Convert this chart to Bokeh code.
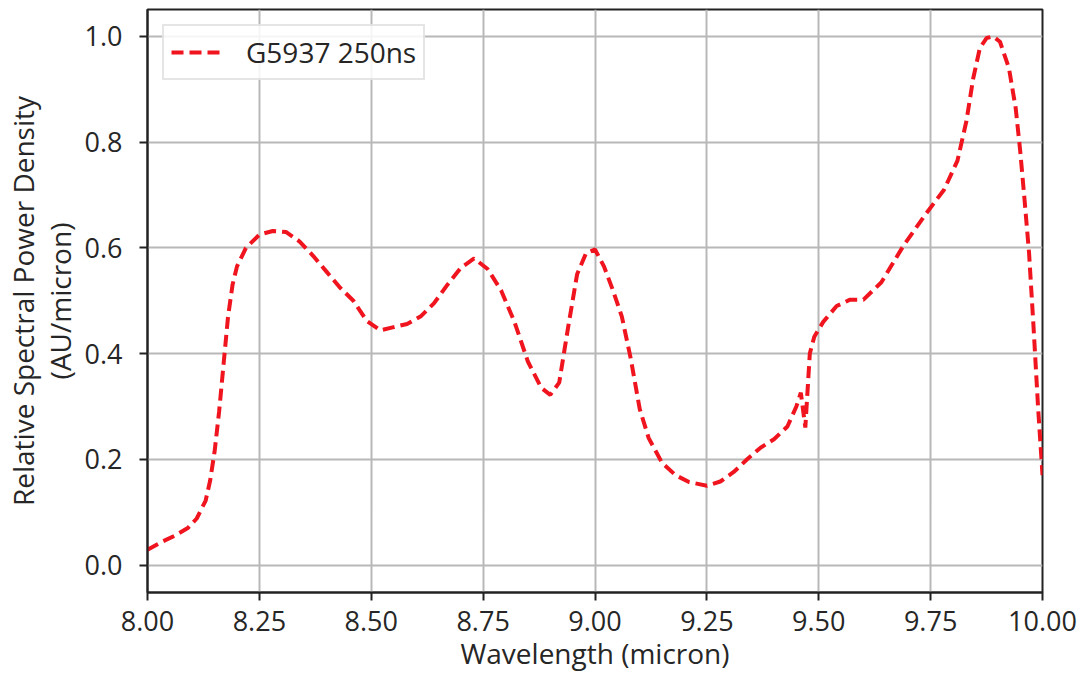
from bokeh.plotting import figure
from bokeh.models import Range1d, FixedTicker, Legend, LegendItem
from bokeh.embed import file_html
from bokeh.resources import INLINE

# ---- data ----
wavelength = [8.00, 8.03, 8.06, 8.09, 8.11, 8.13, 8.14, 8.15, 8.16, 8.17, 8.18, 8.19,
              8.20, 8.22, 8.25, 8.28, 8.31, 8.34, 8.37, 8.40, 8.43, 8.46, 8.49, 8.52,
              8.55, 8.58, 8.61, 8.64, 8.67, 8.70, 8.73, 8.76, 8.79, 8.82, 8.85, 8.88,
              8.90, 8.92, 8.94, 8.96, 8.98, 9.00, 9.02, 9.04, 9.06, 9.08, 9.10, 9.12,
              9.15, 9.18, 9.21, 9.25, 9.28, 9.31, 9.34, 9.37, 9.40, 9.43, 9.45, 9.46,
              9.47, 9.475, 9.48, 9.49, 9.51, 9.54, 9.57, 9.60, 9.64, 9.69, 9.74, 9.78,
              9.81, 9.83, 9.845, 9.86, 9.875, 9.89, 9.905, 9.925, 9.94, 9.95, 9.96,
              9.97, 9.98, 9.99, 10.00]
density = [0.029, 0.043, 0.055, 0.070, 0.088, 0.122, 0.160, 0.215, 0.290, 0.380, 0.470, 0.530,
           0.565, 0.600, 0.625, 0.632, 0.630, 0.612, 0.585, 0.555, 0.525, 0.500, 0.462, 0.444,
           0.450, 0.456, 0.470, 0.495, 0.530, 0.562, 0.580, 0.560, 0.520, 0.460, 0.385, 0.335,
           0.322, 0.345, 0.450, 0.550, 0.590, 0.597, 0.565, 0.520, 0.470, 0.390, 0.295, 0.240,
           0.193, 0.170, 0.157, 0.150, 0.158, 0.176, 0.200, 0.222, 0.238, 0.262, 0.300, 0.326,
           0.260, 0.330, 0.400, 0.432, 0.460, 0.490, 0.502, 0.502, 0.535, 0.605, 0.665, 0.710,
           0.765, 0.840, 0.920, 0.978, 0.997, 1.000, 0.990, 0.940, 0.865, 0.785, 0.690,
           0.590, 0.450, 0.300, 0.170]
series_name = "G5937 250ns"

x_ticks = [8.00, 8.25, 8.50, 8.75, 9.00, 9.25, 9.50, 9.75, 10.00]
x_tick_labels = ["8.00", "8.25", "8.50", "8.75", "9.00", "9.25", "9.50", "9.75", "10.00"]
y_ticks = [0.0, 0.2, 0.4, 0.6, 0.8, 1.0]
y_tick_labels = ["0.0", "0.2", "0.4", "0.6", "0.8", "1.0"]

x_title = "Wavelength (micron)"
y_title = "Relative Spectral Power Density\n(AU/micron)"

FONT = "Open Sans"
TXT = "#262626"

p = figure(width=1080, height=677,
           x_range=Range1d(8.0, 10.0), y_range=Range1d(-0.052, 1.051),
           output_backend="svg", toolbar_location=None,
           min_border_left=147, min_border_right=38,
           min_border_top=9, min_border_bottom=85)

line = p.line(wavelength, density, line_color="#f0141e", line_width=4,
              line_dash="12 6")

# axes
for ax in (p.xaxis[0], p.yaxis[0]):
    ax.major_label_text_font = FONT
    ax.major_label_text_font_size = "27px"
    ax.major_label_text_color = TXT
    ax.axis_label_text_font = FONT
    ax.axis_label_text_font_size = "28px"
    ax.axis_label_text_font_style = "normal"
    ax.axis_label_text_color = TXT
    ax.axis_line_color = "#222222"
    ax.axis_line_width = 2
    ax.major_tick_line_color = "#222222"
    ax.major_tick_line_width = 2
    ax.major_tick_out = 8
    ax.major_tick_in = 0
    ax.minor_tick_out = 0
    ax.minor_tick_in = 0

p.xaxis.ticker = FixedTicker(ticks=x_ticks)
p.xaxis.major_label_overrides = dict(zip(x_ticks, x_tick_labels))
p.yaxis.ticker = FixedTicker(ticks=y_ticks)
p.yaxis.major_label_overrides = dict(zip(y_ticks, y_tick_labels))
p.xaxis.axis_label = x_title
p.yaxis.axis_label = y_title
p.yaxis.axis_label_text_line_height = 0.97
p.xaxis.major_label_standoff = 10
p.xaxis.axis_label_standoff = 0
p.yaxis.major_label_standoff = 17
p.yaxis.axis_label_standoff = 3

# grid
p.xgrid.grid_line_color = "#b8b8b8"
p.ygrid.grid_line_color = "#b8b8b8"
p.xgrid.grid_line_width = 2
p.ygrid.grid_line_width = 2

p.outline_line_color = "#222222"
p.outline_line_width = 2
p.background_fill_color = "white"
p.border_fill_color = "white"

legend = Legend(items=[LegendItem(label=series_name, renderers=[line])],
                location="top_left")
legend.label_text_font = FONT
legend.label_text_font_size = "28px"
legend.label_text_color = TXT
legend.glyph_width = 53
legend.glyph_height = 20
legend.label_standoff = 22
legend.padding = 7
legend.margin = 15
legend.spacing = 0
legend.border_line_color = "#cccccc"
legend.border_line_width = 2
legend.background_fill_alpha = 0.85
p.add_layout(legend)

open("out.html", "w").write(file_html(p, INLINE))
